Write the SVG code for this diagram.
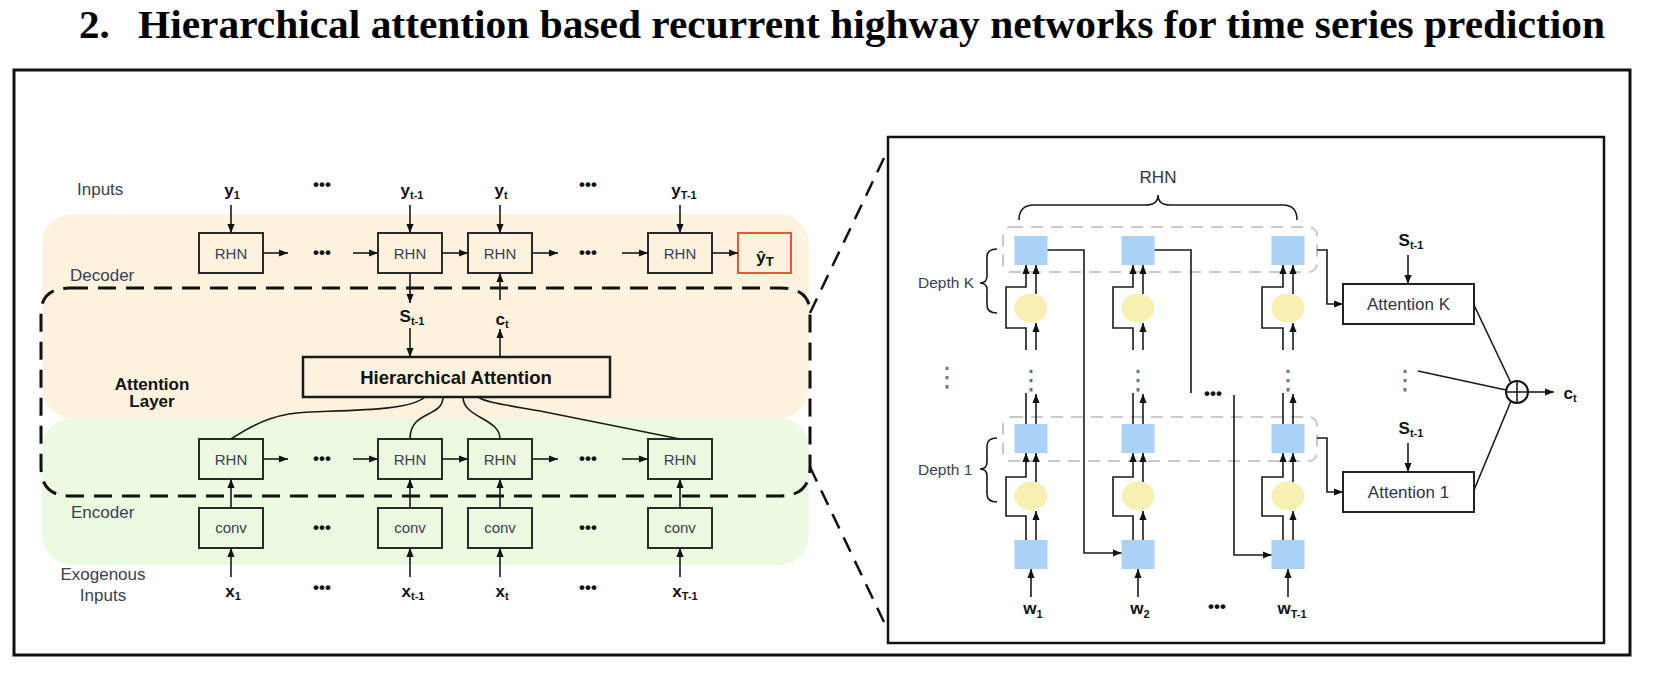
<svg xmlns="http://www.w3.org/2000/svg" width="1654" height="688" viewBox="0 0 1654 688">
<defs>
<marker id="ah" viewBox="0 0 10 8" refX="10" refY="4" markerWidth="9" markerHeight="7.2" markerUnits="userSpaceOnUse" orient="auto"><path d="M0,0 L10,4 L0,8 z" fill="#111"/></marker>
</defs>
<style>
.title{font-family:"Liberation Serif",serif;font-weight:bold;font-size:41px;fill:#000}
.lbl{font-family:"Liberation Sans",sans-serif;font-size:17px;fill:#3a4152}
.lblb{font-family:"Liberation Sans",sans-serif;font-size:17px;font-weight:bold;fill:#111;text-anchor:middle}
.box{fill:none;stroke:#2a2a2a;stroke-width:2}
.bt{font-family:"Liberation Sans",sans-serif;font-size:15px;fill:#3a4152;text-anchor:middle}
.var{font-family:"Liberation Sans",sans-serif;font-size:17px;font-weight:bold;fill:#111;text-anchor:middle}
.sub{font-size:11px}
.dots{font-family:"Liberation Sans",sans-serif;font-size:17px;font-weight:bold;fill:#111;text-anchor:middle}
.ln{fill:none;stroke:#1a1a1a;stroke-width:1.6}
.arr{fill:none;stroke:#1a1a1a;stroke-width:1.6;marker-end:url(#ah)}
.sq{fill:#a9d2f6}
.el{fill:#f8efb2}
.gd{fill:none;stroke:#c9c9c9;stroke-width:2;stroke-dasharray:12 8}
.vd{font-family:"DejaVu Sans",sans-serif;font-size:27px;fill:#6a7090;text-anchor:middle}
.rt{font-family:"Liberation Sans",sans-serif;font-size:17px;fill:#2e3445;text-anchor:middle}
.dash{fill:none;stroke:#111;stroke-width:3;stroke-dasharray:18 10}
</style>

<!-- title and frames -->
<g id="title">
<text class="title" x="79" y="38">2.</text>
<text class="title" x="138" y="38" textLength="1467" lengthAdjust="spacingAndGlyphs">Hierarchical attention based recurrent highway networks for time series prediction</text>
</g>
<rect id="outer-frame" x="14" y="70" width="1616" height="585" fill="none" stroke="#111" stroke-width="3"/>

<!-- LEFT PANEL -->
<g id="left-bg">
<rect x="42" y="214" width="767" height="204" rx="30" fill="#fcf2de"/>
<rect x="42" y="418" width="767" height="147" rx="30" fill="#ebfae0"/>
</g>

<g id="side-labels">
<text class="lbl" x="77" y="195">Inputs</text>
<text class="lbl" x="70" y="281">Decoder</text>
<text class="lbl" x="71" y="518">Encoder</text>
<text class="lbl" x="103" y="580" text-anchor="middle">Exogenous</text>
<text class="lbl" x="103" y="601" text-anchor="middle">Inputs</text>
<text class="lblb" x="152" y="390">Attention</text>
<text class="lblb" x="152" y="407">Layer</text>
</g>

<g id="y-labels">
<text class="var" x="232" y="196">y<tspan class="sub" dy="3">1</tspan></text>
<text class="var" x="412" y="196">y<tspan class="sub" dy="3">t-1</tspan></text>
<text class="var" x="501" y="196">y<tspan class="sub" dy="3">t</tspan></text>
<text class="var" x="684" y="196">y<tspan class="sub" dy="3">T-1</tspan></text>
<text class="dots" x="322" y="190">•••</text>
<text class="dots" x="588" y="190">•••</text>
</g>

<g id="dec-rhn-1"><rect class="box" x="199" y="233" width="64" height="40"/><text class="bt" x="231" y="258.5">RHN</text></g>
<g id="dec-rhn-2"><rect class="box" x="378" y="233" width="64" height="40"/><text class="bt" x="410" y="258.5">RHN</text></g>
<g id="dec-rhn-3"><rect class="box" x="468" y="233" width="64" height="40"/><text class="bt" x="500" y="258.5">RHN</text></g>
<g id="dec-rhn-4"><rect class="box" x="648" y="233" width="64" height="40"/><text class="bt" x="680" y="258.5">RHN</text></g>
<g id="y-hat"><rect x="738" y="233" width="53" height="40" fill="none" stroke="#e9553b" stroke-width="2"/><text class="var" x="765" y="263" font-size="24">ŷ<tspan font-size="13" dy="3">T</tspan></text></g>

<g id="dec-dots"><text class="dots" x="322" y="258">•••</text><text class="dots" x="588" y="258">•••</text></g>

<g id="s-c-labels">
<text class="var" x="412" y="322" font-size="16">S<tspan class="sub" dy="3">t-1</tspan></text>
<text class="var" x="502" y="325">c<tspan class="sub" dy="3">t</tspan></text>
</g>

<g id="hier-attention"><rect x="303" y="357" width="307" height="40" fill="none" stroke="#1a1a1a" stroke-width="2.5"/><text x="456" y="384" font-family="Liberation Sans, sans-serif" font-size="18.5" font-weight="bold" fill="#111" text-anchor="middle">Hierarchical Attention</text></g>

<g id="enc-rhn-1"><rect class="box" x="199" y="439" width="64" height="40"/><text class="bt" x="231" y="464.5">RHN</text></g>
<g id="enc-rhn-2"><rect class="box" x="378" y="439" width="64" height="40"/><text class="bt" x="410" y="464.5">RHN</text></g>
<g id="enc-rhn-3"><rect class="box" x="468" y="439" width="64" height="40"/><text class="bt" x="500" y="464.5">RHN</text></g>
<g id="enc-rhn-4"><rect class="box" x="648" y="439" width="64" height="40"/><text class="bt" x="680" y="464.5">RHN</text></g>
<g id="enc-dots"><text class="dots" x="322" y="464">•••</text><text class="dots" x="588" y="464">•••</text></g>

<g id="conv-1"><rect class="box" x="199" y="508" width="64" height="40"/><text class="bt" x="231" y="532.5">conv</text></g>
<g id="conv-2"><rect class="box" x="378" y="508" width="64" height="40"/><text class="bt" x="410" y="532.5">conv</text></g>
<g id="conv-3"><rect class="box" x="468" y="508" width="64" height="40"/><text class="bt" x="500" y="532.5">conv</text></g>
<g id="conv-4"><rect class="box" x="648" y="508" width="64" height="40"/><text class="bt" x="680" y="532.5">conv</text></g>
<g id="conv-dots"><text class="dots" x="322" y="533">•••</text><text class="dots" x="588" y="533">•••</text></g>

<g id="x-labels">
<text class="var" x="233" y="597">x<tspan class="sub" dy="3">1</tspan></text>
<text class="var" x="413" y="597">x<tspan class="sub" dy="3">t-1</tspan></text>
<text class="var" x="502" y="597">x<tspan class="sub" dy="3">t</tspan></text>
<text class="var" x="685" y="597">x<tspan class="sub" dy="3">T-1</tspan></text>
<text class="dots" x="322" y="593">•••</text>
<text class="dots" x="588" y="593">•••</text>
</g>

<g id="attention-layer-frame">
<path class="dash" d="M70 288 H780 Q810 288 810 313 V467 Q810 496 780 496 H70 Q41 496 41 467 V313 Q41 288 70 288 Z"/>
</g>

<g id="left-connectors">
<path class="arr" d="M231 205 V233"/>
<path class="arr" d="M410 205 V233"/>
<path class="arr" d="M500 205 V233"/>
<path class="arr" d="M680 205 V233"/>
<path class="arr" d="M263 253 H288"/>
<path class="arr" d="M353 253 H378"/>
<path class="arr" d="M442 253 H468"/>
<path class="arr" d="M532 253 H558"/>
<path class="arr" d="M622 253 H648"/>
<path class="arr" d="M712 253 H738"/>
<path class="arr" d="M410 273 V303"/>
<path class="arr" d="M410 328 V357"/>
<path class="arr" d="M500 357 V329"/>
<path class="arr" d="M500 300 V273"/>
<path class="arr" d="M263 459 H288"/>
<path class="arr" d="M353 459 H378"/>
<path class="arr" d="M442 459 H468"/>
<path class="arr" d="M532 459 H558"/>
<path class="arr" d="M622 459 H648"/>
<path class="arr" d="M231 508 V479"/>
<path class="arr" d="M410 508 V479"/>
<path class="arr" d="M500 508 V479"/>
<path class="arr" d="M680 508 V479"/>
<path class="arr" d="M231 577 V548"/>
<path class="arr" d="M410 577 V548"/>
<path class="arr" d="M500 577 V548"/>
<path class="arr" d="M680 577 V548"/>
<path class="ln" d="M231 439 C260 420 280 413 310 412 C360 410 410 410 425 397"/>
<path class="ln" d="M410 439 C410 410 443 418 443 397"/>
<path class="ln" d="M500 439 C500 418 463 418 463 397"/>
<path class="ln" d="M680 439 L540 411 C500 404 485 402 478 397"/>
<path d="M810 313 L884 158 M810 467 L884 622" fill="none" stroke="#111" stroke-width="2.5" stroke-dasharray="16 10"/>
</g>

<!-- RIGHT PANEL -->
<rect id="zoom-box" x="888" y="137" width="716" height="506" fill="none" stroke="#111" stroke-width="2.5"/>

<g id="rhn-brace">
<path class="ln" d="M1019 220 Q1019 205 1034 205 H1146 Q1158 205 1158 195 Q1158 205 1170 205 H1283 Q1297 205 1297 220"/>
<text class="rt" x="1158" y="183">RHN</text>
</g>

<g id="depth-k-frame"><rect class="gd" x="1003" y="227" width="314" height="45" rx="8"/></g>
<g id="depth-1-frame"><rect class="gd" x="1003" y="417" width="314" height="44" rx="8"/></g>

<g id="depth-k-label">
<path class="ln" d="M997 249 Q987 249 987 257 V276 Q987 283 980 283 Q987 283 987 290 V305 Q987 313 997 313"/>
<text x="918" y="288" font-family="Liberation Sans, sans-serif" font-size="15.5" fill="#3a4152">Depth K</text>
</g>
<g id="depth-1-label">
<path class="ln" d="M997 438 Q987 438 987 446 V462 Q987 469 980 469 Q987 469 987 476 V494 Q987 502 997 502"/>
<text x="918" y="475" font-family="Liberation Sans, sans-serif" font-size="15.5" fill="#3a4152">Depth 1</text>
</g>
<text class="vd" x="947" y="386">⋮</text>

<g id="col-1">
<rect class="sq" x="1014.5" y="236" width="33" height="29"/>
<ellipse class="el" cx="1031" cy="308" rx="16.5" ry="14.5"/>
<text class="vd" x="1031" y="389">⋮</text>
<rect class="sq" x="1014.5" y="424" width="33" height="29"/>
<ellipse class="el" cx="1031" cy="496" rx="16.5" ry="14.5"/>
<rect class="sq" x="1014.5" y="540" width="33" height="29"/>
<path class="arr" d="M1026 350 V328 H1006 V287 H1026 V265"/>
<path class="arr" d="M1036 294 V265"/>
<path class="arr" d="M1036 350 V323"/>
<path class="ln" d="M1026 393 V424"/>
<path class="arr" d="M1036 424 V394"/>
<path class="arr" d="M1026 540 V516 H1006 V477 H1026 V453"/>
<path class="arr" d="M1036 482 V453"/>
<path class="arr" d="M1036 540 V511"/>
<path class="arr" d="M1031 597 V569"/>
<text class="var" x="1033" y="614" font-size="18">w<tspan class="sub" font-size="12" dy="4">1</tspan></text>
</g>

<g id="col-2">
<rect class="sq" x="1121.5" y="236" width="33" height="29"/>
<ellipse class="el" cx="1138" cy="308" rx="16.5" ry="14.5"/>
<text class="vd" x="1138" y="389">⋮</text>
<rect class="sq" x="1121.5" y="424" width="33" height="29"/>
<ellipse class="el" cx="1138" cy="496" rx="16.5" ry="14.5"/>
<rect class="sq" x="1121.5" y="540" width="33" height="29"/>
<path class="arr" d="M1133 350 V328 H1113 V287 H1133 V265"/>
<path class="arr" d="M1143 294 V265"/>
<path class="arr" d="M1143 350 V323"/>
<path class="ln" d="M1133 393 V424"/>
<path class="arr" d="M1143 424 V394"/>
<path class="arr" d="M1133 540 V516 H1113 V477 H1133 V453"/>
<path class="arr" d="M1143 482 V453"/>
<path class="arr" d="M1143 540 V511"/>
<path class="arr" d="M1138 597 V569"/>
<text class="var" x="1140" y="614" font-size="18">w<tspan class="sub" font-size="12" dy="4">2</tspan></text>
</g>

<g id="col-3">
<rect class="sq" x="1271.5" y="236" width="33" height="29"/>
<ellipse class="el" cx="1288" cy="308" rx="16.5" ry="14.5"/>
<text class="vd" x="1288" y="389">⋮</text>
<rect class="sq" x="1271.5" y="424" width="33" height="29"/>
<ellipse class="el" cx="1288" cy="496" rx="16.5" ry="14.5"/>
<rect class="sq" x="1271.5" y="540" width="33" height="29"/>
<path class="arr" d="M1283 350 V328 H1262 V287 H1283 V265"/>
<path class="arr" d="M1293 294 V265"/>
<path class="arr" d="M1293 350 V323"/>
<path class="ln" d="M1283 393 V424"/>
<path class="arr" d="M1293 424 V394"/>
<path class="arr" d="M1283 540 V516 H1262 V477 H1283 V453"/>
<path class="arr" d="M1293 482 V453"/>
<path class="arr" d="M1293 540 V511"/>
<path class="arr" d="M1288 597 V569"/>
<text class="var" x="1292" y="614" font-size="18">w<tspan class="sub" font-size="12" dy="4">T-1</tspan></text>
</g>

<g id="w-dots"><text class="dots" x="1217" y="612">•••</text><text class="dots" x="1213" y="399">•••</text></g>

<g id="attention-k"><rect x="1343" y="284" width="131" height="40" fill="#fff" stroke="#222" stroke-width="2"/><text class="rt" x="1408.5" y="310">Attention K</text></g>
<g id="attention-1"><rect x="1343" y="472" width="131" height="40" fill="#fff" stroke="#222" stroke-width="2"/><text class="rt" x="1408.5" y="498">Attention 1</text></g>
<g id="s-labels-right">
<text class="var" x="1411" y="246">S<tspan class="sub" dy="3">t-1</tspan></text>
<text class="var" x="1411" y="434">S<tspan class="sub" dy="3">t-1</tspan></text>
</g>
<text class="vd" x="1405" y="389">⋮</text>
<g id="oplus"><circle cx="1517" cy="392" r="11" fill="#fff" stroke="#111" stroke-width="2"/><path class="ln" d="M1506 392 H1528 M1517 381 V403"/></g>
<text class="var" x="1570" y="399">c<tspan class="sub" dy="3">t</tspan></text>

<g id="right-connectors">
<path class="arr" d="M1047.5 250 H1084 V553 H1121.5"/>
<path class="ln" d="M1154.5 250 H1191 V393"/>
<path class="arr" d="M1234 395 V555 H1271.5"/>
<path class="arr" d="M1317 250 H1327 V304 H1343"/>
<path class="arr" d="M1317 438 H1327 V492 H1343"/>
<path class="arr" d="M1408 255 V284"/>
<path class="arr" d="M1408 443 V472"/>
<path class="ln" d="M1474 305 L1511 383"/>
<path class="ln" d="M1474 490 L1511 401"/>
<path class="ln" d="M1418 371 L1506 390"/>
<path class="arr" d="M1528 392 H1554"/>
</g>
</svg>
